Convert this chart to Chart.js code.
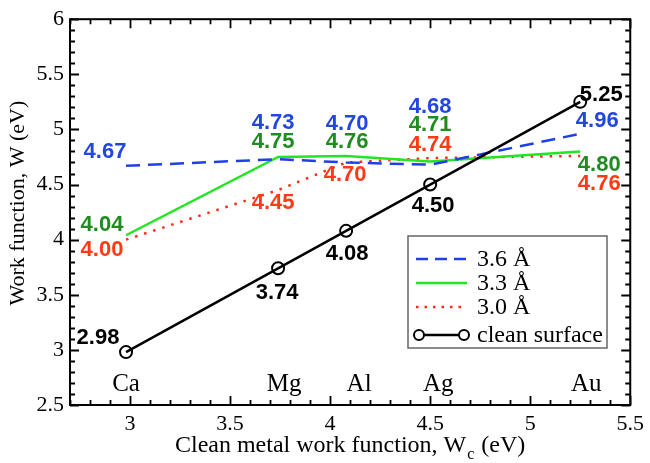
<!DOCTYPE html>
<html><head><meta charset="utf-8">
<script src="https://cdn.jsdelivr.net/npm/chart.js@4.4.0/dist/chart.umd.min.js"></script>
<style>html,body{margin:0;padding:0;background:#fff}#wrap{width:650px;height:463px}</style>
</head><body><div id="wrap"><canvas id="c" width="650" height="463"></canvas></div>
<script>
// ---- data ----
const metals = ['Ca', 'Mg', 'Al', 'Ag', 'Au'];
const cleanWF = [2.98, 3.74, 4.08, 4.50, 5.25];
const wf36 = [4.67, 4.73, 4.70, 4.68, 4.96];
const wf33 = [4.04, 4.75, 4.76, 4.71, 4.80];
const wf30 = [4.00, 4.45, 4.70, 4.74, 4.76];
const seriesNames = ['3.6 Å', '3.3 Å', '3.0 Å', 'clean surface'];
const xTicks = [3, 3.5, 4, 4.5, 5, 5.5];
const yTicks = [2.5, 3, 3.5, 4, 4.5, 5, 5.5, 6];
const xTitleParts = ['Clean metal work function, W', 'c', ' (eV)'];
const yTitle = 'Work function, W (eV)';

// ---- styles / label placement (pixel offsets from each point) ----
const colors = { blue: '#1f40e6', green: '#22e622', red: '#ff2a1a', black: '#000' };
const labelColors = { wf36: '#2346e0', wf33: '#1e8c1e', wf30: '#ff3a14', clean: '#000' };
const labelOffsets = {
  wf36: [[-21, -14], [-5, -36], [1, -39], [0, -58], [17, -13]],
  wf33: [[-24, -10], [-5, -15], [1, -14], [0, -36], [19, 13]],
  wf30: [[-24, 10], [-5, 13], [-1, 12], [0, -13], [19, 28]],
  clean: [[-28, -14], [-1, 25], [1, 23], [3, 21], [21, -7]]
};
const metalDx = [0, 6, 13, 8, 6];

const pts = ys => cleanWF.map((x, i) => ({ x: x, y: ys[i] }));

const overlay = {
  id: 'overlay',
  afterDraw(chart) {
    const c = chart.ctx, a = chart.chartArea;
    const xs = chart.scales.x, ys = chart.scales.y;
    c.save();
    // frame
    c.strokeStyle = '#000'; c.lineWidth = 2;
    c.strokeRect(a.left, a.top, a.right - a.left, a.bottom - a.top);
    // inward ticks
    c.lineWidth = 1.8;
    c.beginPath();
    for (let i = 27; i <= 55; i++) {
      const px = Math.round(xs.getPixelForValue(i / 10)) + 0.5;
      const L = (i % 5 === 0) ? 9 : 5;
      c.moveTo(px, a.bottom); c.lineTo(px, a.bottom - L);
      c.moveTo(px, a.top); c.lineTo(px, a.top + L);
    }
    for (let i = 25; i <= 60; i++) {
      const py = Math.round(ys.getPixelForValue(i / 10)) + 0.5;
      const L = (i % 5 === 0) ? 9 : 5;
      c.moveTo(a.left, py); c.lineTo(a.left + L, py);
      c.moveTo(a.right, py); c.lineTo(a.right - L, py);
    }
    c.stroke();

    // value labels
    c.font = 'bold 22px "Liberation Sans", Arial, sans-serif';
    c.textAlign = 'center'; c.textBaseline = 'middle';
    const sets = { wf36: wf36, wf33: wf33, wf30: wf30, clean: cleanWF };
    Object.keys(sets).forEach(k => {
      c.fillStyle = labelColors[k];
      sets[k].forEach((v, i) => {
        const px = xs.getPixelForValue(cleanWF[i]) + labelOffsets[k][i][0];
        const py = ys.getPixelForValue(v) + labelOffsets[k][i][1];
        c.fillText(v.toFixed(2), px, py);
      });
    });

    // metal names
    c.font = '25px "Liberation Serif", "Times New Roman", serif';
    c.fillStyle = '#000';
    metals.forEach((m, i) => {
      c.fillText(m, xs.getPixelForValue(cleanWF[i]) + metalDx[i], ys.getPixelForValue(2.5) - 21);
    });

    // axis titles
    c.font = '24px "Liberation Serif", "Times New Roman", serif';
    c.textAlign = 'left'; c.textBaseline = 'alphabetic';
    const w0 = c.measureText(xTitleParts[0]).width;
    c.font = '16px "Liberation Serif", serif';
    const w1 = c.measureText(xTitleParts[1]).width;
    c.font = '24px "Liberation Serif", serif';
    const w2 = c.measureText(xTitleParts[2]).width;
    const cx = (a.left + a.right) / 2;
    let x0 = cx - (w0 + w1 + 2 + w2) / 2;
    const base = 452;
    c.fillText(xTitleParts[0], x0, base);
    c.font = '16px "Liberation Serif", serif';
    c.fillText(xTitleParts[1], x0 + w0 + 1, base + 7);
    c.font = '24px "Liberation Serif", serif';
    c.fillText(xTitleParts[2], x0 + w0 + w1 + 2, base);

    c.save();
    c.translate(18, (a.top + a.bottom) / 2 - 9);
    c.rotate(-Math.PI / 2);
    c.font = '22px "Liberation Serif", serif';
    c.textAlign = 'center'; c.textBaseline = 'middle';
    c.fillText(yTitle, 0, 0);
    c.restore();

    // legend
    const lx = 408, ly = 236, lw = 199, lh = 112;
    c.fillStyle = '#fff';
    c.fillRect(lx, ly, lw, lh);
    c.strokeStyle = '#666'; c.lineWidth = 1.5;
    c.strokeRect(lx, ly, lw, lh);
    const rows = [259, 283, 307, 335];
    const legendStyle = [
      { color: colors.blue, dash: [12, 7], w: 2.5 },
      { color: colors.green, dash: [], w: 2.5 },
      { color: colors.red, dash: [2.5, 6], w: 2.5 },
      { color: '#000', dash: [], w: 2.5, marker: true }
    ];
    legendStyle.forEach((s, i) => {
      c.strokeStyle = s.color; c.lineWidth = s.w; c.setLineDash(s.dash);
      c.beginPath(); c.moveTo(416, rows[i]); c.lineTo(467, rows[i]); c.stroke();
      c.setLineDash([]);
      if (s.marker) {
        c.lineWidth = 2;
        [419, 464].forEach(mx => { c.beginPath(); c.arc(mx, rows[i], 5, 0, Math.PI * 2); c.fillStyle = '#fff'; c.fill(); c.stroke(); });
      }
      c.fillStyle = '#000';
      c.font = '24px "Liberation Serif", serif';
      c.textAlign = 'left'; c.textBaseline = 'middle';
      c.fillText(seriesNames[i], 477, rows[i] + 1);
    });
    c.restore();
  }
};

new Chart(document.getElementById('c').getContext('2d'), {
  type: 'scatter',
  data: {
    datasets: [
      { label: seriesNames[3], data: pts(cleanWF), showLine: true, borderColor: colors.black, borderWidth: 2.5,
        pointRadius: 6, pointBorderWidth: 2, pointBorderColor: '#000', pointBackgroundColor: 'rgba(0,0,0,0)', order: 0 },
      { label: seriesNames[0], data: pts(wf36), showLine: true, borderColor: colors.blue, borderWidth: 2.5,
        borderDash: [14, 8], pointRadius: 0, order: 1 },
      { label: seriesNames[1], data: pts(wf33), showLine: true, borderColor: colors.green, borderWidth: 2.5,
        pointRadius: 0, order: 2 },
      { label: seriesNames[2], data: pts(wf30), showLine: true, borderColor: colors.red, borderWidth: 2.5,
        borderDash: [2.5, 7], pointRadius: 0, order: 3 }
    ]
  },
  options: {
    responsive: false, animation: false, devicePixelRatio: 1,
    layout: { padding: { top: 11, right: 16, left: 0, bottom: 0 } },
    plugins: { legend: { display: false }, tooltip: { enabled: false } },
    scales: {
      x: {
        type: 'linear', min: 2.7, max: 5.5,
        afterBuildTicks: s => { s.ticks = xTicks.map(v => ({ value: v })); },
        afterFit: s => { s.height = 58; },
        grid: { display: false, drawTicks: false }, border: { display: false },
        ticks: { font: { family: '"Liberation Serif", serif', size: 22 }, color: '#000', padding: 6,
                 maxRotation: 0, autoSkip: false, callback: v => String(v) }
      },
      y: {
        type: 'linear', min: 2.5, max: 6,
        afterBuildTicks: s => { s.ticks = yTicks.map(v => ({ value: v })); },
        afterFit: s => { s.width = 70; },
        grid: { display: false, drawTicks: false }, border: { display: false },
        ticks: { font: { family: '"Liberation Serif", serif', size: 22 }, color: '#000', padding: 6,
                 autoSkip: false, callback: v => String(v) }
      }
    }
  },
  plugins: [overlay]
});
</script>
</body></html>
